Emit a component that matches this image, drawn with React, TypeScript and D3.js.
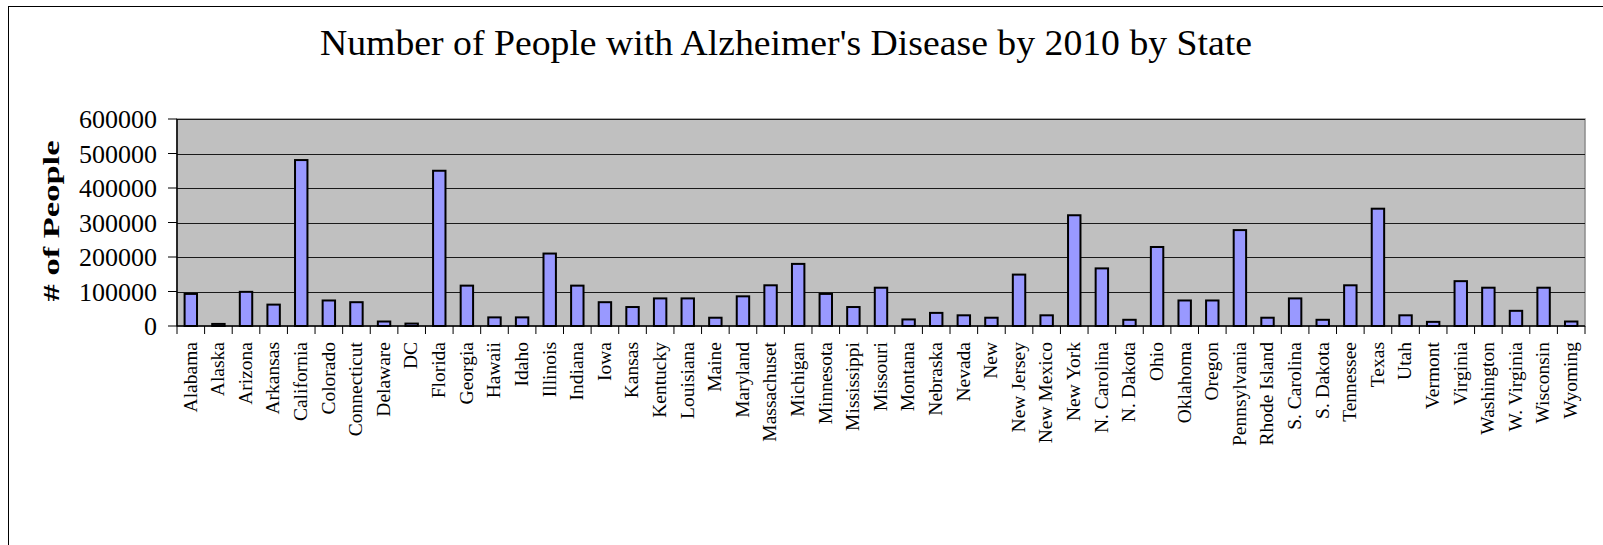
import React from "react";
import * as d3 from "d3";

const states = [
  "Alabama", "Alaska", "Arizona", "Arkansas", "California", "Colorado", "Connecticut", "Delaware", "DC",
  "Florida", "Georgia", "Hawaii", "Idaho", "Illinois", "Indiana", "Iowa", "Kansas", "Kentucky", "Louisiana",
  "Maine", "Maryland", "Massachuset", "Michigan", "Minnesota", "Mississippi", "Missouri", "Montana", "Nebraska",
  "Nevada", "New", "New Jersey", "New Mexico", "New York", "N. Carolina", "N. Dakota", "Ohio", "Oklahoma",
  "Oregon", "Pennsylvania", "Rhode Island", "S. Carolina", "S. Dakota", "Tennessee", "Texas", "Utah",
  "Vermont", "Virginia", "Washington", "W. Virginia", "Wisconsin", "Wyoming",
];

const people = [
  93000, 6000, 99000, 62000, 481000, 74000, 69000, 13000, 7000,
  450000, 117000, 25000, 25000, 210000, 117000, 69000, 55000, 80000, 80000,
  24000, 86000, 118000, 180000, 93000, 55000, 111000, 19000, 38000,
  31000, 24000, 149000, 31000, 321000, 167000, 18000, 229000, 74000,
  74000, 278000, 24000, 80000, 18000, 118000, 340000, 31000,
  12000, 130000, 111000, 44000, 111000, 13000,
];

const yTicks = [0, 100000, 200000, 300000, 400000, 500000, 600000];

const title = "Number of People with Alzheimer's Disease by 2010 by State";
const yTitle = "# of People";

const W = 1603;
const H = 545;
const plot = { left: 177, right: 1585, top: 119, bottom: 326 };
const font = "'Liberation Serif', 'DejaVu Serif', serif";

export default function App() {
  const x = d3
    .scaleBand<string>()
    .domain(states)
    .range([plot.left, plot.right])
    .paddingInner(0.55)
    .paddingOuter(0.275);
  const y = d3.scaleLinear().domain([0, 600000]).range([plot.bottom, plot.top]);
  const step = x.step();
  const boundaries = d3.range(states.length + 1).map((i) => plot.left + i * step);

  return (
    <svg
      width={W}
      height={H}
      style={{ position: "absolute", left: 0, top: 0, background: "#fff" }}
    >
      <rect x={8.5} y={6.5} width={W + 20} height={H + 20} fill="#fff" stroke="#000" strokeWidth={1} />
      <text
        x={786}
        y={55}
        textAnchor="middle"
        fontFamily={font}
        fontSize={36}
        textLength={932}
        lengthAdjust="spacingAndGlyphs"
        fill="#000"
      >
        {title}
      </text>

      <rect
        x={plot.left}
        y={plot.top}
        width={plot.right - plot.left}
        height={plot.bottom - plot.top}
        fill="#c0c0c0"
        stroke="#8c8c8c"
        strokeWidth={1.5}
      />

      {yTicks.slice(1).map((t) => (
        <line
          key={"g" + t}
          x1={plot.left}
          x2={plot.right}
          y1={Math.round(y(t)) + 0.5}
          y2={Math.round(y(t)) + 0.5}
          stroke="#1a1a1a"
          strokeWidth={1}
        />
      ))}

      {states.map((s, i) => {
        const top = y(people[i]);
        return (
          <rect
            key={s}
            x={x(s)!}
            y={top}
            width={x.bandwidth()}
            height={plot.bottom - top}
            fill="#9999ff"
            stroke="#000"
            strokeWidth={2}
          />
        );
      })}

      <line x1={plot.left} x2={plot.left} y1={plot.top} y2={plot.bottom} stroke="#000" strokeWidth={1.5} />
      <line x1={plot.left} x2={plot.right} y1={plot.bottom} y2={plot.bottom} stroke="#000" strokeWidth={1.5} />

      {yTicks.map((t) => (
        <g key={"yt" + t}>
          <line x1={plot.left - 9} x2={plot.left} y1={y(t)} y2={y(t)} stroke="#000" strokeWidth={1} />
          <text
            x={157}
            y={y(t)}
            dy="0.35em"
            textAnchor="end"
            fontFamily={font}
            fontSize={26}
            fill="#000"
          >
            {t}
          </text>
        </g>
      ))}

      {boundaries.map((bx, i) => (
        <line key={"xt" + i} x1={bx} x2={bx} y1={plot.bottom} y2={plot.bottom + 8} stroke="#000" strokeWidth={1} />
      ))}

      {states.map((s) => {
        const cx = x(s)! + x.bandwidth() / 2 - 1;
        return (
          <text
            key={"l" + s}
            transform={`translate(${cx},342) rotate(-90)`}
            dy="0.35em"
            textAnchor="end"
            fontFamily={font}
            fontSize={19.5}
            fill="#000"
          >
            {s}
          </text>
        );
      })}

      <text
        transform="translate(51,221) rotate(-90)"
        dy="0.35em"
        textAnchor="middle"
        fontFamily={font}
        fontWeight="bold"
        fontSize={24}
        textLength={161}
        lengthAdjust="spacingAndGlyphs"
        fill="#000"
      >
        {yTitle}
      </text>
    </svg>
  );
}
